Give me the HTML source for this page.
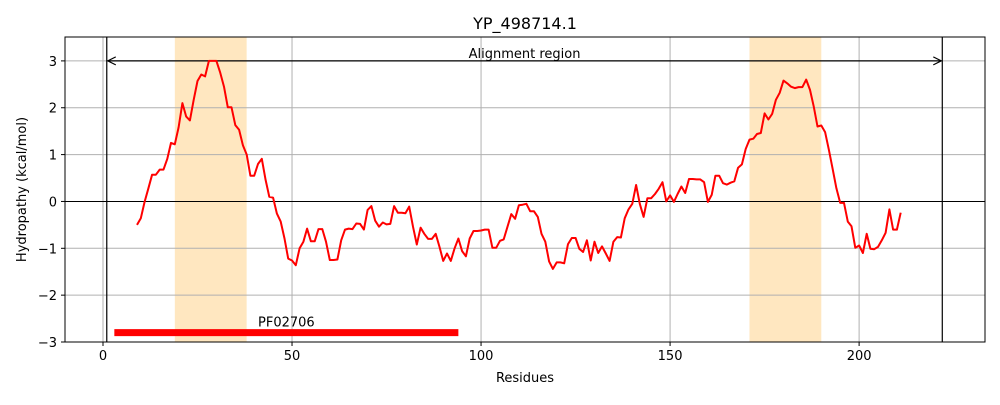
<!DOCTYPE html>
<html><head><meta charset="utf-8"><style>
body{margin:0;background:#fff;font-family:"Liberation Sans","DejaVu Sans",sans-serif;}
svg text{font-family:"DejaVu Sans","Liberation Sans",sans-serif;}
</style></head><body>
<svg id="chart" width="1000" height="400" xmlns="http://www.w3.org/2000/svg"></svg>
<script>
const startResidue = 9;
const hydropathy = [-0.50,-0.36,-0.01,0.28,0.57,0.57,0.68,0.68,0.91,1.25,1.22,1.58,2.10,1.81,1.73,2.17,2.57,2.71,2.67,3.0,3.0,3.0,2.75,2.45,2.01,2.01,1.63,1.53,1.20,1.0,0.55,0.55,0.80,0.91,0.46,0.10,0.08,-0.26,-0.43,-0.79,-1.22,-1.26,-1.36,-1.0,-0.86,-0.58,-0.85,-0.85,-0.59,-0.59,-0.86,-1.25,-1.25,-1.24,-0.83,-0.60,-0.58,-0.59,-0.47,-0.48,-0.60,-0.18,-0.10,-0.41,-0.54,-0.45,-0.49,-0.48,-0.10,-0.24,-0.24,-0.25,-0.11,-0.54,-0.92,-0.56,-0.69,-0.80,-0.80,-0.69,-0.97,-1.27,-1.11,-1.27,-1.0,-0.79,-1.06,-1.17,-0.79,-0.63,-0.63,-0.62,-0.60,-0.60,-0.99,-0.99,-0.84,-0.81,-0.54,-0.27,-0.37,-0.08,-0.07,-0.05,-0.21,-0.21,-0.33,-0.69,-0.86,-1.28,-1.44,-1.30,-1.30,-1.32,-0.91,-0.78,-0.78,-1.01,-1.08,-0.83,-1.26,-0.86,-1.10,-0.96,-1.11,-1.27,-0.86,-0.76,-0.77,-0.36,-0.17,-0.05,0.35,-0.05,-0.33,0.07,0.07,0.16,0.27,0.41,0.0,0.13,-0.01,0.16,0.32,0.18,0.48,0.48,0.47,0.47,0.41,-0.01,0.14,0.55,0.55,0.39,0.36,0.40,0.43,0.72,0.79,1.12,1.32,1.34,1.44,1.46,1.88,1.75,1.87,2.17,2.32,2.58,2.52,2.45,2.42,2.44,2.44,2.60,2.38,2.03,1.60,1.62,1.48,1.10,0.70,0.28,-0.03,-0.03,-0.43,-0.53,-0.99,-0.94,-1.10,-0.69,-1.01,-1.02,-0.97,-0.83,-0.67,-0.17,-0.60,-0.60,-0.24];
const tmSpans = [[19,38],[171,190]];
const alignRegion = [1,222];
const domainStart = 3, domainEnd = 94, domainName = "PF02706";
const xTicks = [0,50,100,150,200];
const yTicks = [-3,-2,-1,0,1,2,3];

const L=65,R=985,T=37,B=342, xMin=-10.05,xMax=233.3,yMin=-3,yMax=3.51;
const X=v=>L+(v-xMin)/(xMax-xMin)*(R-L);
const Y=v=>B-(v-yMin)/(yMax-yMin)*(B-T);
const svg=document.getElementById('chart');
const NS='http://www.w3.org/2000/svg';
function mk(tag,attrs,parent){const e=document.createElementNS(NS,tag);for(const k in attrs)e.setAttribute(k,attrs[k]);(parent||svg).appendChild(e);return e;}

tmSpans.forEach((s,i)=>{
  const r=mk('rect',{x:X(s[0]),y:T,width:X(s[1])-X(s[0]),height:B-T,fill:'#ffe7c0'});
  
  
});
xTicks.forEach(t=>{
  const l=mk('line',{x1:X(t),x2:X(t),y1:T,y2:B,stroke:'#b0b0b0','stroke-width':1});
  
  
  mk('line',{x1:X(t),x2:X(t),y1:B,y2:B+4,stroke:'#000'});
  const tx=mk('text',{x:X(t),y:B+18,'text-anchor':'middle','font-size':13});
  tx.textContent=t;
  
  
});
yTicks.forEach(t=>{
  const l=mk('line',{x1:L,x2:R,y1:Y(t),y2:Y(t),stroke:'#b0b0b0','stroke-width':1});
  
  
  mk('line',{x1:L-4,x2:L,y1:Y(t),y2:Y(t),stroke:'#000'});
  const tx=mk('text',{x:L-8,y:Y(t)+5,'text-anchor':'end','font-size':13});
  tx.textContent=(t<0?'\u2212'+(-t):t);
  
  
});
const zl=mk('line',{x1:L,x2:R,y1:Y(0),y2:Y(0),stroke:'#000','stroke-width':1});


alignRegion.forEach(v=>{
  const l=mk('line',{x1:X(v),x2:X(v),y1:T,y2:B,stroke:'#000','stroke-width':1.2});
  
  
});
const ay=Y(3);
const arr=mk('g',{});


mk('line',{x1:X(alignRegion[0])+1,x2:X(alignRegion[1])-1,y1:ay,y2:ay,stroke:'#000','stroke-width':1.2},arr);
mk('path',{d:`M${X(alignRegion[0])+9},${ay-4} L${X(alignRegion[0])+1},${ay} L${X(alignRegion[0])+9},${ay+4}`,fill:'none',stroke:'#000','stroke-width':1.2},arr);
mk('path',{d:`M${X(alignRegion[1])-9},${ay-4} L${X(alignRegion[1])-1},${ay} L${X(alignRegion[1])-9},${ay+4}`,fill:'none',stroke:'#000','stroke-width':1.2},arr);
const at=mk('text',{x:(X(alignRegion[0])+X(alignRegion[1]))/2,y:ay-3,'text-anchor':'middle','font-size':13});
at.textContent='Alignment region';



const pts=hydropathy.map((v,i)=>X(startResidue+i).toFixed(1)+','+Y(v).toFixed(1)).join(' ');
const pl=mk('polyline',{points:pts,fill:'none',stroke:'#ff0000','stroke-width':2,'stroke-linejoin':'round'});



const db=mk('line',{x1:X(domainStart),x2:X(domainEnd),y1:Y(-2.8),y2:Y(-2.8),stroke:'#ff0000','stroke-width':7});


const dt=mk('text',{x:(X(domainStart)+X(domainEnd))/2,y:Y(-2.8)-6,'text-anchor':'middle','font-size':13});
dt.textContent=domainName;



const fr=mk('rect',{x:L,y:T,width:R-L,height:B-T,fill:'none',stroke:'#000','stroke-width':1});


const ti=mk('text',{x:(L+R)/2,y:29,'text-anchor':'middle','font-size':16});
ti.textContent='YP_498714.1';


const xl=mk('text',{x:(L+R)/2,y:382,'text-anchor':'middle','font-size':13});
xl.textContent='Residues';


const yl=mk('text',{x:0,y:0,'text-anchor':'middle','font-size':13,transform:`translate(26,${(T+B)/2}) rotate(-90)`});
yl.textContent='Hydropathy (kcal/mol)';


</script>
</body></html>
